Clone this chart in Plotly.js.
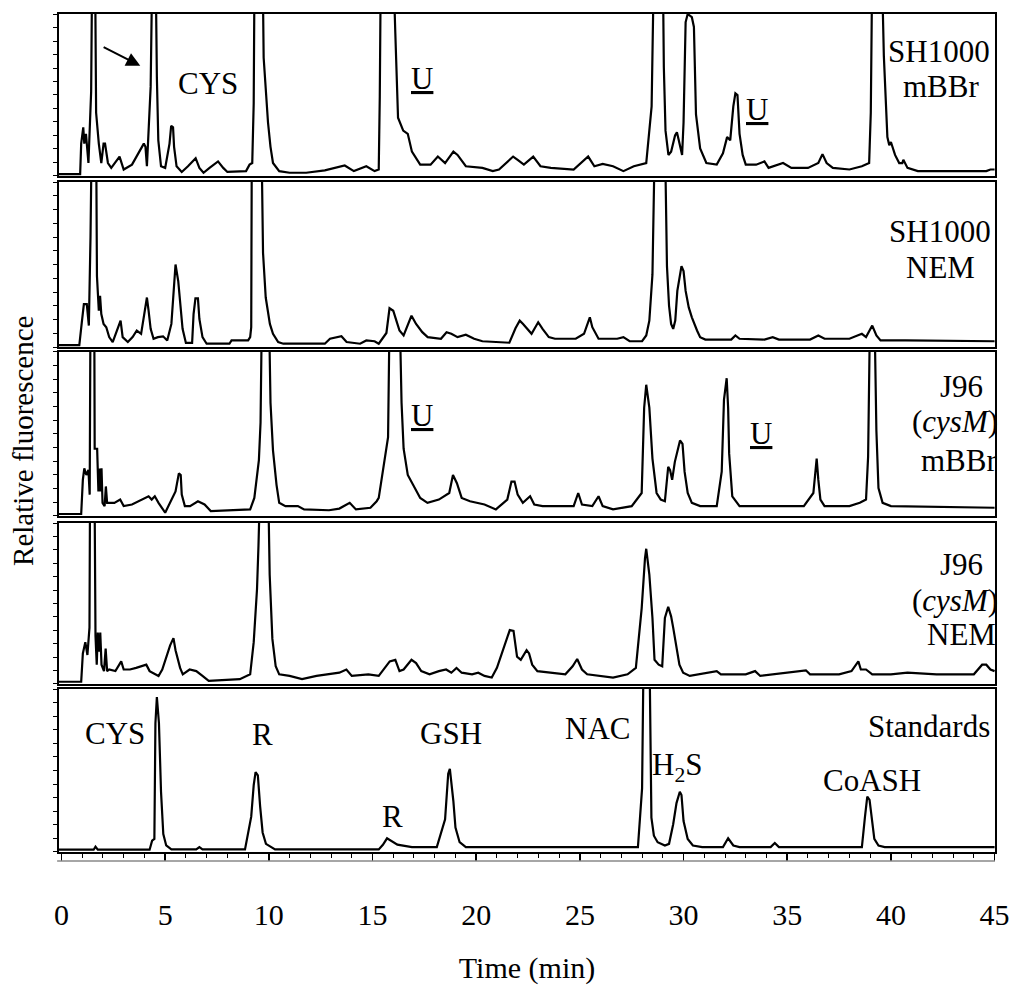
<!DOCTYPE html>
<html>
<head>
<meta charset="utf-8">
<script src="https://cdn.plot.ly/plotly-3.0.1.min.js"></script>
<style>html,body{margin:0;padding:0;background:#fff}#chart{width:1009px;height:985px}</style>
</head>
<body>
<div id="chart"></div>
<script>
// ---- Data (time in min, relative fluorescence in % of panel full scale; >100 = off scale) ----
const panelNames = ["SH1000 mBBr", "SH1000 NEM", "J96 (cysM) mBBr", "J96 (cysM) NEM", "Standards"];
const xTickVals = [0, 5, 10, 15, 20, 25, 30, 35, 40, 45];
const xTickText = ["0", "5", "10", "15", "20", "25", "30", "35", "40", "45"];

const t1 = [-0.12,0.9,0.95,1.05,1.1,1.18,1.3,1.43,1.48,1.62,1.67,1.8,1.92,2.03,2.1,2.24,2.4,2.8,3.0,3.4,3.97,4.05,4.12,4.3,4.38,4.54,4.6,4.67,4.8,5.0,5.21,5.29,5.38,5.43,5.55,5.8,6.1,6.47,6.65,6.85,7.14,7.55,7.8,8.0,8.9,9.07,9.2,9.27,9.31,9.7,9.75,9.96,10.08,10.2,10.5,11.0,11.8,12.7,13.66,14.1,14.7,15.1,15.3,15.35,15.4,16.0,16.1,16.23,16.48,16.7,16.9,17.3,17.8,18.15,18.5,18.9,19.1,19.5,20.3,20.8,21.1,21.78,22.0,22.3,22.75,23.1,23.6,24.7,25.4,25.7,26.1,26.6,27.1,27.6,28.2,28.46,28.57,29.0,29.05,29.13,29.27,29.4,29.59,29.68,29.77,29.93,30.0,30.1,30.2,30.4,30.5,30.6,30.8,31.1,31.6,31.9,32.1,32.25,32.4,32.5,32.6,32.7,32.85,33.0,33.5,33.9,34.1,34.8,35.2,36.0,36.5,36.7,36.9,37.2,38.0,38.6,38.95,39.03,39.1,39.56,39.66,39.83,39.92,40.0,40.2,40.4,40.55,40.6,40.8,41.3,44.6,44.8,45];
const v1 = [1.2,1.2,20,30,20,26,8,52,130,130,39,20,8,20,20,8,5,12,4,7,20,18,6,55,130,130,61,22,6,5,20,31,30,18,6,2.5,6,11,5,2,5,9,5,2.5,3,7,8,45,130,130,73,33,18,8,3,2,2,3.5,6.5,3,6,3,4,49,130,130,88,36,28,26,15,7,7,12,8,15,13,6,5,3,4,12,10,7,12,6,5,4,12,6,7.5,6,3,6,8,43,130,130,67,28,13,15,25,27,22,13,33,95,100,98,92,38,17,8,7,14,24,22,43,51,50,26,13,7,7,9,5,8,5,5,8,13.5,8,5,4,6,8,39,130,130,74,24,19,21,13,8,8,10,5,3,3,4,4];

const t2 = [-0.12,0.86,0.98,1.08,1.22,1.32,1.4,1.46,1.67,1.71,1.8,1.86,1.92,2.03,2.16,2.3,2.47,2.72,2.85,2.95,3.2,3.43,3.63,3.84,4.0,4.12,4.2,4.3,4.44,4.65,4.9,5.1,5.3,5.45,5.5,5.63,5.76,5.84,6.0,6.3,6.37,6.46,6.58,6.65,6.8,7.0,8.1,8.2,9.0,9.1,9.15,9.18,9.64,9.72,9.85,9.96,10.05,10.2,10.45,10.7,12.7,12.95,13.5,13.75,14.4,14.7,15.1,15.3,15.67,15.82,16.0,16.15,16.3,16.5,16.7,16.88,17.1,17.4,17.66,18.3,18.57,18.8,19.1,19.5,19.9,20.3,21.6,21.9,22.1,22.26,22.67,22.99,23.2,23.5,23.8,24.8,25.2,25.48,25.6,25.9,26.8,27.1,27.4,28.0,28.2,28.35,28.5,28.62,29.1,29.2,29.3,29.4,29.5,29.6,29.7,29.9,30.0,30.1,30.25,30.4,30.65,30.8,31.05,32.3,32.5,32.7,33.9,34.3,34.6,36.1,36.5,36.8,38.0,38.6,38.8,39.1,39.3,39.5,40.7,44.8,45];
const v2 = [1.2,1.2,15,26,26,13,67,130,130,43,22,31,20,14,12,6,3,12,16,6,3,6,10,8,20,30,22,11,5,6,6.5,4,14,44,50,40,20,11,2.5,2.5,20,29.5,29.5,17,6,2,2,4,4,6,12,130,130,57,30,20,14,8,3,2,2,5,6.5,3,2,4,3.5,2,8.5,23.5,22,16,10,7,14,19,14,9,6,5,9,8,6,7.5,5,3.5,2.6,11.5,16,14,8,15,11,6,5,5,8,18,12,5,5,6,3.5,3.5,7,16,44,130,130,49,25,14,11,16,34,49,46,34,24,18,10,6,4.5,4.5,7,5,4.5,6,4.5,4.5,7,5,5,8,6,13,7,4,4,3.5,3.5];

const t3 = [-0.12,0.95,1.03,1.1,1.2,1.3,1.36,1.4,1.58,1.6,1.72,1.78,1.85,1.88,1.93,1.98,2.08,2.14,2.2,2.3,2.55,2.83,3.0,3.4,4.0,4.2,4.35,4.5,4.68,5.0,5.5,5.66,5.75,5.8,5.95,6.2,6.58,6.9,7.2,9.1,9.3,9.52,9.6,9.67,10.0,10.08,10.2,10.37,10.5,10.8,11.4,11.7,12.9,13.4,13.9,14.2,14.9,15.2,15.3,15.75,15.83,16.3,16.4,16.5,16.7,17.0,17.3,17.65,18.2,18.7,18.88,19.07,19.3,19.7,20.4,20.95,21.5,21.7,21.85,22.0,22.25,22.6,22.8,23.2,24.7,24.92,25.1,25.6,25.9,26.1,26.6,27.5,27.98,28.1,28.2,28.35,28.5,28.7,28.9,29.1,29.26,29.35,29.45,29.58,29.83,29.95,30.05,30.2,30.4,30.8,31.6,31.84,31.95,32.08,32.15,32.2,32.35,32.7,33.5,34.3,35.8,36.26,36.42,36.5,36.6,36.8,38.0,38.5,38.8,38.9,39.0,39.2,39.3,39.4,39.6,40.0,44.8,45];
const v3 = [1.2,1.2,22,29,25,28,13,130,130,41,41,15,29,15,29,8,6,18,8,8,8,10,6,7,11,12,10,12,8,2,15,26,25,13,6,6,9,7,3,4,11,34,57,130,130,69,40,19,8,6,6,4,3.5,4.5,8,4,5,9,11,48,130,130,69,41,25,18,11,8,10,14,25,20,11,9,7,4,10,21,21,13,8,12,7,6,6,14,7,6,12,6,4,6,14,66,80,66,35,14,10,9,30,28,22,33,46,44,27,14,8,6,6,27,71,84,66,38,12,6,6,6,6,14,35,22,10,6,6,8,10,36,130,130,52,17,8,6,5,5];

const t4 = [-0.12,0.95,1.03,1.15,1.25,1.35,1.38,1.59,1.64,1.7,1.75,1.82,1.87,1.93,2.05,2.13,2.2,2.3,2.6,2.88,3.0,3.3,3.6,4.09,4.25,4.5,4.68,4.86,5.24,5.4,5.5,5.72,5.85,6.18,6.5,6.8,7.1,8.6,9.1,9.27,9.43,9.5,9.59,9.96,10.04,10.17,10.33,10.5,11.0,11.6,12.3,13.4,13.74,14.0,14.8,15.3,15.83,16.1,16.3,16.5,16.88,17.1,17.35,17.75,18.2,18.55,18.8,19.05,19.3,19.8,20.1,20.4,20.75,21.0,21.62,21.8,21.97,22.15,22.43,22.55,22.7,22.95,24.3,24.65,24.87,25.1,25.35,26.6,27.3,27.7,27.98,28.14,28.2,28.35,28.5,28.6,28.8,28.97,29.1,29.26,29.4,29.5,29.65,29.8,29.98,30.3,31.6,31.8,33.0,33.45,33.7,35.9,36.1,37.5,38.1,38.43,38.55,38.8,39.1,40.0,40.8,42.2,44.0,44.4,44.6,44.8,45];
const v4 = [1.4,1.4,19,26,18,35,130,130,30,12,32,20,32,12,8,22,8,9,8,14,9,9,10,12,8,6,5,9,24,28.5,21,10,6,9,8,5,2,3,6,26,59,86,130,130,68,28,11,6,5,3,5,7,9,5,6,5,14,15,8,9,15,13,8,6,8,9,7,10,7,6,7,5,4,10,33.5,33,17,15,21,19,12,8,6,11,15.5,9,6,4,6,10,47,78,84,68,41,15,12,11,41,48,42,35,23,12,7,5,8,6,6,8,5,8.5,6,6,8,14,9,9,6,6,7,6,6,12,12,9,8];

const t5 = [-0.12,1.55,1.64,1.75,4.25,4.37,4.48,4.53,4.6,4.7,4.8,4.91,5.05,5.3,6.5,6.65,6.8,8.85,9.15,9.27,9.36,9.47,9.58,9.7,9.86,10.1,10.3,15.3,15.5,15.7,15.9,16.2,16.9,18.1,18.5,18.65,18.73,18.9,19.0,19.2,19.5,22.6,27.8,28.0,28.08,28.35,28.45,28.57,28.75,29.1,29.3,29.5,29.66,29.82,29.9,30.0,30.2,30.45,30.9,31.9,32.15,32.4,32.7,34.2,34.4,34.6,38.6,38.75,38.86,38.97,39.1,39.2,39.4,39.7,45];
const v5 = [1.4,1.4,3.3,1.4,1.4,7,8,79,95,79,37,11,4,1.6,1.6,3,1.6,1.6,21.7,41,49,47,28,12,5,3,1.6,1.6,4.4,8.4,7,4.5,3,3,20,48,51,31,15,6,3,3,3,39,130,130,21,10,6,4,5,17,30,37,35,19,8,4,3,3,8.4,4,3,3,5.5,3,3,21.7,34,32,20,8,4,3,3];

// ---- Layout helpers ----
const times = [t1, t2, t3, t4, t5];
const vals = [v1, v2, v3, v4, v5];
const xIds = ["x2", "x3", "x4", "x5", "x"];
const yIds = ["y2", "y3", "y4", "y5", "y"];
const domains = [[0.8067, 1.0], [0.6026, 0.7995], [0.4010, 0.5967], [0.2005, 0.3926], [0, 0.1945]];

const FONT = "Liberation Serif, Times New Roman, serif";
const traces = times.map((t, i) => ({
  type: "scatter", mode: "lines", name: panelNames[i],
  x: t, y: vals[i], xaxis: xIds[i], yaxis: yIds[i],
  line: {color: "#000", width: 2.2}, hoverinfo: "skip", showlegend: false
}));

const layout = {
  width: 1009, height: 985,
  margin: {l: 59, r: 14, t: 14, b: 133},
  paper_bgcolor: "#fff", plot_bgcolor: "#fff",
  font: {family: FONT, size: 30, color: "#000"},
  showlegend: false,
  annotations: [], shapes: []
};

for (let i = 0; i < 5; i++) {
  const xk = i === 4 ? "xaxis" : "xaxis" + (i + 2);
  const yk = i === 4 ? "yaxis" : "yaxis" + (i + 2);
  const bottom = i === 4;
  layout[xk] = {
    domain: [0, 1], range: [-0.12, 45.02], anchor: yIds[i],
    showline: true, mirror: true, linecolor: "#000", linewidth: 2,
    showgrid: false, zeroline: false,
    ticks: bottom ? "outside" : "", ticklen: 7, tickwidth: 1.5, tickcolor: "#000",
    showticklabels: bottom,
    tickmode: "array", tickvals: xTickVals, ticktext: xTickText,
    ticklabelstandoff: 28, ticklabeloverflow: "allow",
    tickfont: {family: FONT, size: 30, color: "#000"}
  };
  if (bottom) {
    layout[xk].minor = {dtick: 1, tick0: 0, ticks: "outside", ticklen: 4, tickwidth: 1, tickcolor: "#000", showgrid: false};
    layout[xk].title = {text: "Time (min)", font: {family: FONT, size: 30, color: "#000"}, standoff: 28};
  } else {
    layout[xk].matches = "x";
  }
  layout[yk] = {
    domain: domains[i], range: [0, 100], anchor: xIds[i],
    showline: true, mirror: true, linecolor: "#000", linewidth: 2,
    showgrid: false, zeroline: false, showticklabels: false,
    ticks: "outside", ticklen: 4, tickwidth: 1, tickcolor: "#000",
    tickmode: "linear", tick0: 0, dtick: 100 / 12, fixedrange: true
  };
}

function lab(text, x, y, panel, opts) {
  layout.annotations.push(Object.assign({
    text: text, x: x, y: y, xref: xIds[panel], yref: yIds[panel],
    showarrow: false, xanchor: "center", yanchor: "middle",
    font: {family: FONT, size: 31, color: "#000"}
  }, opts || {}));
}

// Panel 1: SH1000 mBBr
layout.annotations.push({
  x: 3.8, y: 68, ax: 1.96, ay: 80, xref: "x2", yref: "y2", axref: "x2", ayref: "y2",
  showarrow: true, arrowhead: 2, arrowsize: 1.4, arrowwidth: 2, arrowcolor: "#000", text: ""
});
lab("CYS", 7.06, 57, 0);
lab("<u>U</u>", 17.38, 60, 0);
lab("<u>U</u>", 33.53, 41, 0);
lab("SH1000", 42.3, 77, 0);
lab("mBBr", 42.4, 55, 0);
// Panel 2: SH1000 NEM
lab("SH1000", 42.36, 70, 1);
lab("NEM", 42.4, 48, 1);
// Panel 3: J96 (cysM) mBBr
lab("<u>U</u>", 17.38, 61, 2);
lab("<u>U</u>", 33.73, 50, 2);
lab("J96", 43.4, 79, 2);
lab("(<i>cysM</i>)", 43.08, 57.5, 2);
lab("mBBr", 43.3, 34, 2);
// Panel 4: J96 (cysM) NEM
lab("J96", 43.4, 74, 3);
lab("(<i>cysM</i>)", 43.08, 52, 3);
lab("NEM", 43.4, 31, 3);
// Panel 5: Standards
lab("CYS", 2.58, 73, 4);
lab("R", 9.67, 72, 4);
lab("R", 15.94, 22, 4);
lab("GSH", 18.78, 73, 4);
lab("NAC", 25.87, 76, 4);
lab("H<sub>2</sub>S", 29.68, 52, 4);
lab("CoASH", 39.08, 44, 4);
lab("Standards", 44.88, 77, 4, {xanchor: "right"});

// Y axis title (shared)
layout.annotations.push({
  text: "Relative fluorescence", xref: "paper", yref: "paper",
  x: -0.0385, y: 0.4905, xanchor: "center", yanchor: "middle",
  textangle: -90, showarrow: false,
  font: {family: FONT, size: 29, color: "#000"}
});

// faint frame line under the bottom panel
layout.shapes.push({type: "line", xref: "paper", yref: "paper", x0: -0.002, x1: 1, y0: -0.0107, y1: -0.0107,
  line: {color: "#888", width: 1.5}});

Plotly.newPlot("chart", traces, layout, {displayModeBar: false, staticPlot: true});
</script>
</body>
</html>
